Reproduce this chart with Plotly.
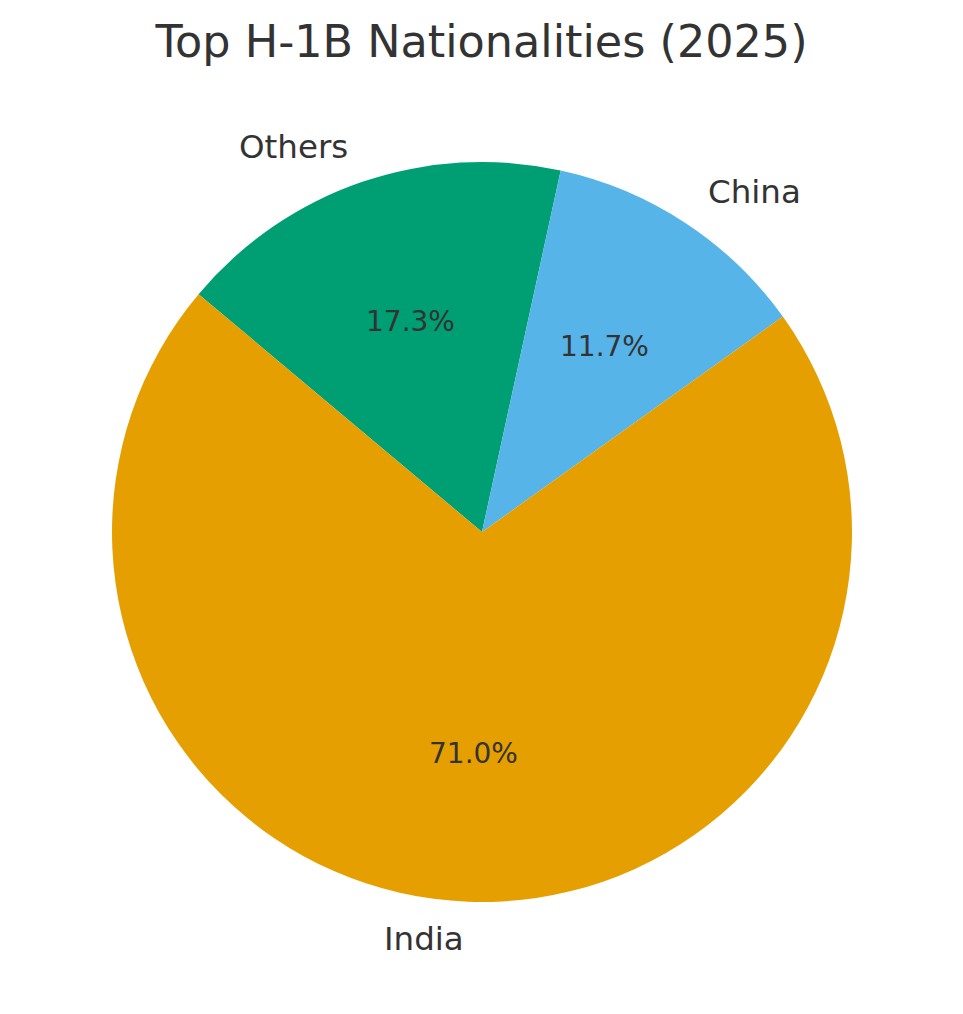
"""
Pie chart: top H-1B nationalities (2025)
"""
import numpy as np
import plotly.graph_objects as go

countries = ['India', 'China', 'Others']
shares = [71.0, 11.7, 17.3]
colors = ['#E69F00', '#56B4E9', '#009E73']

W, H = 963, 1014
CX, CY, R = 482, 532, 370   # pie centre / radius in pixels
START = 140                 # degrees, counter-clockwise from +x
TEXT = '#333333'

# plotly lays counter-clockwise slices out oddly, so go clockwise with the order reversed
fig = go.Figure(go.Pie(
    labels=countries[::-1], values=shares[::-1], sort=False,
    direction='clockwise', rotation=90 - START,
    marker=dict(colors=colors[::-1], line=dict(width=0)),
    textinfo='none', hoverinfo='label+percent', showlegend=False,
    domain=dict(x=[(CX - R) / W, (CX + R) / W],
                y=[(H - CY - R) / H, (H - CY + R) / H]),
))

# label / percentage positions derived from the slice angles
fracs = np.array(shares) / np.sum(shares)
ends = START + 360 * np.cumsum(fracs)
mids = np.radians(ends - 180 * fracs)
for name, frac, a in zip(countries, fracs, mids):
    lx, ly = CX + 1.1 * R * np.cos(a), CY - 1.1 * R * np.sin(a)
    fig.add_annotation(x=lx / W, y=1 - ly / H, xref='paper', yref='paper',
                       text=name, showarrow=False,
                       xanchor='left' if np.cos(a) > 0 else 'right', yanchor='middle',
                       font=dict(size=32.5, color=TEXT))
    px_, py_ = CX + 0.6 * R * np.cos(a), CY - 0.6 * R * np.sin(a)
    fig.add_annotation(x=px_ / W, y=1 - py_ / H, xref='paper', yref='paper',
                       text=f"{frac * 100:.1f}%", showarrow=False,
                       xanchor='center', yanchor='middle',
                       font=dict(size=28, color=TEXT))

fig.update_layout(
    width=W, height=H, margin=dict(t=0, b=0, l=0, r=0),
    paper_bgcolor='white', plot_bgcolor='white',
    font=dict(family='DejaVu Sans', color=TEXT),
    title=dict(text='Top H-1B Nationalities (2025)', x=0.5, xanchor='center',
               y=1 - 41 / H, yanchor='middle', font=dict(size=44.5, color=TEXT)),
)

fig.write_html("out.html", config={'displayModeBar': False},
               post_script="document.body.style.margin = '0';")
